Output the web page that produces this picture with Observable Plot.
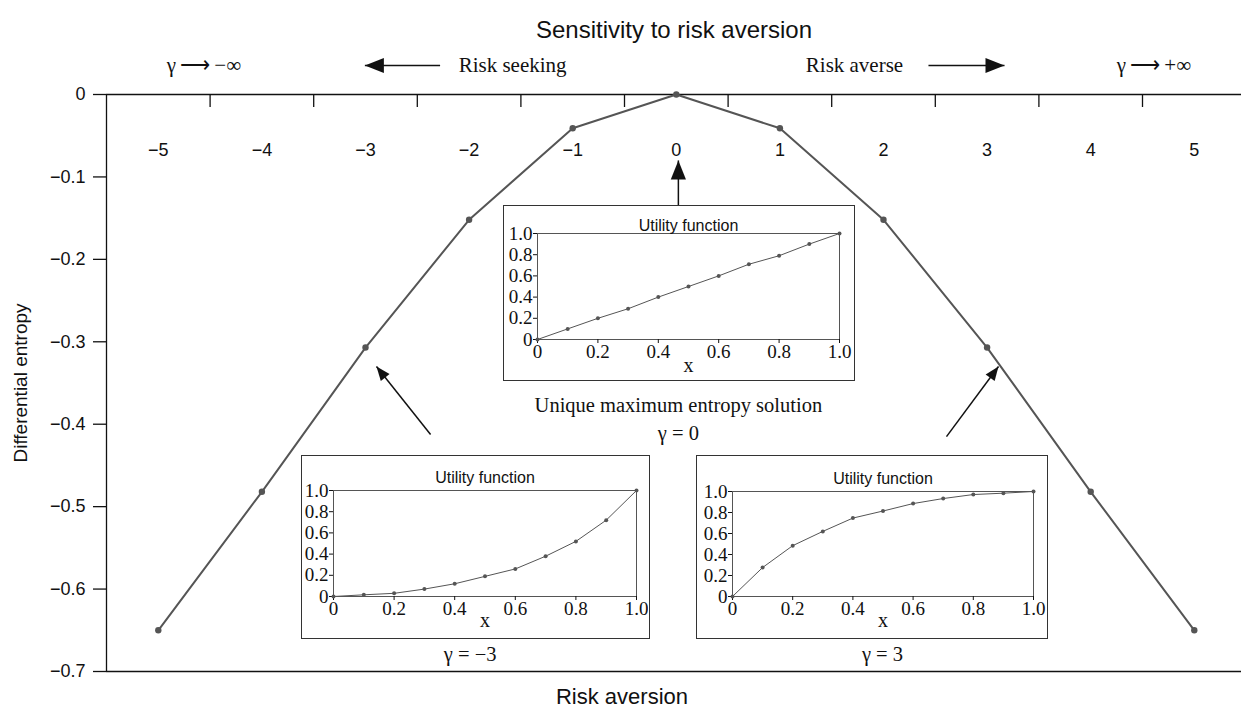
<!DOCTYPE html>
<html><head><meta charset="utf-8">
<script src="https://cdn.jsdelivr.net/npm/d3@7"></script>
<script src="https://cdn.jsdelivr.net/npm/@observablehq/plot@0.6"></script>
<style>
body{margin:0;background:#fff;}
#wrap{position:relative;width:1241px;height:715px;overflow:hidden;background:#fff;}
.inset{position:absolute;box-sizing:border-box;border:1.5px solid #333;background:#fff;}
.inset svg{display:block;}
</style></head><body><div id="wrap"></div>
<script>
// ---- data ----
const gammaValues = [-5, -4, -3, -2, -1, 0, 1, 2, 3, 4, 5];
const gammaTickLabels = ["−5", "−4", "−3", "−2", "−1", "0", "1", "2", "3", "4", "5"];
const entropyValues = [-0.65, -0.482, -0.307, -0.152, -0.041, 0, -0.041, -0.152, -0.307, -0.482, -0.65];
const yTicks = [0, -0.1, -0.2, -0.3, -0.4, -0.5, -0.6, -0.7];
const yTickLabels = ["0", "−0.1", "−0.2", "−0.3", "−0.4", "−0.5", "−0.6", "−0.7"];
const bandEdges = [-4.5, -3.5, -2.5, -1.5, -0.5, 0.5, 1.5, 2.5, 3.5, 4.5];

const utilX = [0, 0.1, 0.2, 0.3, 0.4, 0.5, 0.6, 0.7, 0.8, 0.9, 1.0];
const utilGamma0 = [0, 0.1, 0.2, 0.29, 0.4, 0.5, 0.6, 0.71, 0.79, 0.9, 1.0];
const utilGammaNeg3 = [0, 0.016, 0.03, 0.07, 0.12, 0.19, 0.26, 0.38, 0.52, 0.72, 1.0];
const utilGammaPos3 = [0, 0.276, 0.484, 0.62, 0.747, 0.814, 0.885, 0.933, 0.971, 0.984, 1.0];
const unitTicks = [0, 0.2, 0.4, 0.6, 0.8, 1.0];
const unitTickLabels = ["0", "0.2", "0.4", "0.6", "0.8", "1.0"];

const topNotes = [
  {label: "γ\u2009⟶\u2009−∞", x: -4.56, y: 0.035},
  {label: "Risk seeking", x: -1.58, y: 0.035},
  {label: "Risk averse", x: 1.72, y: 0.035},
  {label: "γ\u2009⟶\u2009+∞", x: 4.61, y: 0.035}
];
const captionNotes = [
  {label: "Unique maximum entropy solution", x: 0.02, y: -0.377},
  {label: "γ = 0", x: 0.02, y: -0.411},
  {label: "γ = −3", x: -1.99, y: -0.679},
  {label: "γ = 3", x: 1.99, y: -0.679}
];
const arrows = [
  {x1: -2.28, y1: 0.0352, x2: -3.006, y2: 0.0352, big: true},
  {x1: 2.434, y1: 0.0352, x2: 3.168, y2: 0.0352, big: true},
  {x1: 0.02, y1: -0.1347, x2: 0.02, y2: -0.080, big: true},
  {x1: -2.372, y1: -0.4125, x2: -2.894, y2: -0.330, big: false},
  {x1: 2.608, y1: -0.415, x2: 3.110, y2: -0.330, big: false}
];

// ---- setup ----
const SANS = "'Liberation Sans', Arial, sans-serif";
const SERIF = "'Liberation Serif', 'Times New Roman', serif";
const xDef = {domain: [-5.5, 5.5], range: [106, 1245.6]};
const yDef = {domain: [-0.7, 0], range: [671, 94]};
const xs = d3.scaleLinear(xDef.domain, xDef.range);
const ys = d3.scaleLinear(yDef.domain, yDef.range);
arrows.forEach(a => {
  const dx = xs(a.x2) - xs(a.x1), dy = ys(a.y2) - ys(a.y1);
  a.angle = Math.atan2(dx, -dy) * 180 / Math.PI;
});
const headSymbol = {
  draw(ctx, size) {
    const s = Math.sqrt(size / Math.PI);
    ctx.moveTo(0, 0);
    ctx.lineTo(0.4 * s, s);
    ctx.lineTo(-0.4 * s, s);
    ctx.closePath();
  }
};

const main = Plot.plot({
  width: 1241, height: 715,
  marginLeft: 106, marginRight: 0, marginTop: 94, marginBottom: 44,
  x: {...xDef, axis: null},
  y: {...yDef, axis: null},
  style: {fontFamily: SANS, background: "white", color: "#111"},
  marks: [
    Plot.ruleY([0, -0.7], {stroke: "#111", strokeWidth: 1.3}),
    Plot.ruleX([-5.5], {stroke: "#111", strokeWidth: 1.3}),
    Plot.ruleX(bandEdges, {stroke: "#111", strokeWidth: 1.3, insetBottom: 577 - 13}),
    Plot.axisY({ticks: yTicks, tickSize: 13, tickPadding: 8, fontSize: 18, label: null,
      tickFormat: d => yTickLabels[yTicks.indexOf(d)], strokeWidth: 1.3}),
    Plot.text(gammaValues, {x: d => d, text: (d, i) => gammaTickLabels[i], frameAnchor: "top", dy: 49, fontSize: 18}),
    Plot.line(gammaValues, {x: d => d, y: (d, i) => entropyValues[i], stroke: "#555", strokeWidth: 2}),
    Plot.dot(gammaValues, {x: d => d, y: (d, i) => entropyValues[i], r: 3.2, fill: "#555"}),
    Plot.text(["Sensitivity to risk aversion"], {frameAnchor: "top", dy: -74, fontSize: 24}),
    Plot.text(["Risk aversion"], {frameAnchor: "bottom", dx: -52, dy: 32, fontSize: 22}),
    Plot.text(["Differential entropy"], {frameAnchor: "left", textAnchor: "middle", dx: -86, rotate: -90, fontSize: 19}),
    Plot.text(topNotes, {x: "x", y: "y", text: "label", fontFamily: SERIF, fontSize: 21}),
    Plot.text(captionNotes, {x: "x", y: "y", text: "label", fontFamily: SERIF, fontSize: 20.5}),
    Plot.link(arrows, {x1: "x1", y1: "y1", x2: "x2", y2: "y2", stroke: "#111", strokeWidth: 1.5}),
    Plot.dot(arrows, {filter: d => d.big, x: "x2", y: "y2", rotate: "angle", symbol: headSymbol, r: 19, fill: "#111", stroke: "none"}),
    Plot.dot(arrows, {filter: d => !d.big, x: "x2", y: "y2", rotate: "angle", symbol: headSymbol, r: 14, fill: "#111", stroke: "none"})
  ]
});
const wrap = document.getElementById("wrap");
wrap.appendChild(main);
main.style.position = "absolute";
main.style.left = "0px";
main.style.top = "0px";

function utilityInset(values, box, m, titleDy, xLabelDy) {
  const div = document.createElement("div");
  div.className = "inset";
  div.style.left = box.left + "px";
  div.style.top = box.top + "px";
  div.style.width = box.width + "px";
  div.style.height = box.height + "px";
  const chart = Plot.plot({
    width: box.width - 3, height: box.height - 3,
    marginLeft: m[0], marginRight: m[1], marginTop: m[2], marginBottom: m[3],
    x: {domain: [0, 1], axis: null},
    y: {domain: [0, 1], axis: null},
    style: {fontFamily: SERIF, background: "white", color: "#111"},
    marks: [
      Plot.frame({stroke: "#555", strokeWidth: 1}),
      Plot.axisY({ticks: unitTicks, tickSize: 4, tickPadding: 1, fontSize: 19, label: null,
        tickFormat: d => unitTickLabels[unitTicks.indexOf(d)]}),
      Plot.axisX({ticks: unitTicks, tickSize: 4, tickPadding: 1, fontSize: 19, label: null,
        tickFormat: d => unitTickLabels[unitTicks.indexOf(d)]}),
      Plot.line(utilX, {x: d => d, y: (d, i) => values[i], stroke: "#555", strokeWidth: 1}),
      Plot.dot(utilX, {x: d => d, y: (d, i) => values[i], r: 2, fill: "#555"}),
      Plot.text(["Utility function"], {frameAnchor: "top", dy: titleDy, fontFamily: SANS, fontSize: 16}),
      Plot.text(["x"], {frameAnchor: "bottom", dy: xLabelDy, fontSize: 20})
    ]
  });
  div.appendChild(chart);
  wrap.appendChild(div);
}
utilityInset(utilGamma0, {left: 503, top: 205, width: 352, height: 176}, [33, 14, 27, 40], -14, 32.5);
utilityInset(utilGammaNeg3, {left: 301, top: 455, width: 349, height: 184}, [31, 12, 34, 41], -19, 30.5);
utilityInset(utilGammaPos3, {left: 696, top: 455, width: 352, height: 184}, [35, 13, 35, 41], -19, 30.5);
</script></body></html>
